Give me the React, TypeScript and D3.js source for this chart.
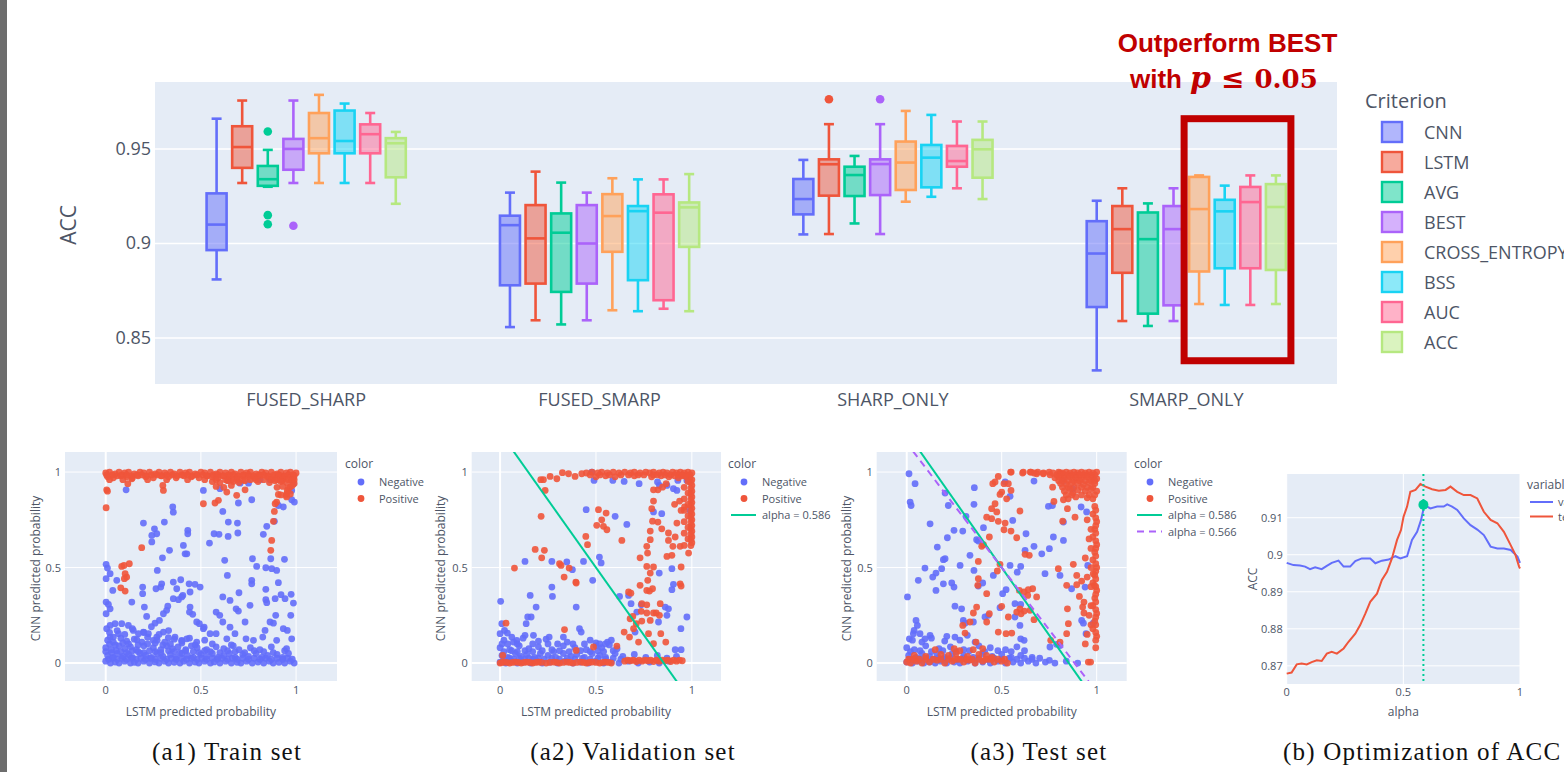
import React from "react";
import * as d3 from "d3";

// ---------- top box plot data ----------
const groups = ["FUSED_SHARP", "FUSED_SMARP", "SHARP_ONLY", "SMARP_ONLY"];
const criteria = ["CNN", "LSTM", "AVG", "BEST", "CROSS_ENTROPY", "BSS", "AUC", "ACC"];
const criterionColors = ["#636efa", "#EF553B", "#00cc96", "#ab63fa", "#FFA15A", "#19d3f3", "#FF6692", "#B6E880"];

// [lower whisker, q1, median, q3, upper whisker], one row per criterion
const fusedSharpStats = [
  [0.881, 0.8965, 0.91, 0.9265, 0.966],
  [0.932, 0.94, 0.951, 0.962, 0.9756],
  [0.93, 0.9305, 0.934, 0.941, 0.9495],
  [0.932, 0.939, 0.95, 0.9553, 0.9756],
  [0.932, 0.9477, 0.9557, 0.969, 0.9786],
  [0.932, 0.9477, 0.9542, 0.9703, 0.974],
  [0.932, 0.9477, 0.9578, 0.963, 0.969],
  [0.921, 0.935, 0.953, 0.9557, 0.959],
];
const fusedSmarpStats = [
  [0.8558, 0.8779, 0.9097, 0.9147, 0.9269],
  [0.8594, 0.8788, 0.9027, 0.9203, 0.938],
  [0.8572, 0.8744, 0.9057, 0.9159, 0.9322],
  [0.8594, 0.8788, 0.9, 0.9203, 0.9269],
  [0.8647, 0.8956, 0.9145, 0.9261, 0.9345],
  [0.8642, 0.8806, 0.9171, 0.9198, 0.9339],
  [0.8655, 0.87, 0.9163, 0.926, 0.9339],
  [0.8642, 0.8982, 0.9191, 0.9217, 0.9367],
];
const sharpOnlyStats = [
  [0.9048, 0.9154, 0.9235, 0.9341, 0.9442],
  [0.905, 0.9253, 0.9419, 0.9445, 0.9631],
  [0.9106, 0.9251, 0.9362, 0.9406, 0.9463],
  [0.905, 0.9256, 0.942, 0.9445, 0.9631],
  [0.9221, 0.9283, 0.9428, 0.9539, 0.9701],
  [0.9247, 0.9297, 0.9454, 0.9521, 0.968],
  [0.9292, 0.9406, 0.9436, 0.9516, 0.9645],
  [0.9235, 0.9348, 0.9498, 0.9548, 0.9645],
];
const smarpOnlyStats = [
  [0.8329, 0.8664, 0.8947, 0.9118, 0.9226],
  [0.859, 0.8845, 0.9076, 0.9198, 0.9292],
  [0.8564, 0.8629, 0.9023, 0.9164, 0.9212],
  [0.859, 0.8673, 0.9076, 0.9198, 0.9292],
  [0.868, 0.8852, 0.9182, 0.9352, 0.936],
  [0.8675, 0.8869, 0.917, 0.9231, 0.9306],
  [0.8675, 0.8869, 0.9219, 0.9299, 0.936],
  [0.868, 0.886, 0.9193, 0.9314, 0.936],
];
const groupStats = [fusedSharpStats, fusedSmarpStats, sharpOnlyStats, smarpOnlyStats];
// [group index, criterion index, value]
const boxOutliers = [
  [0, 2, 0.9592], [0, 2, 0.915], [0, 2, 0.9102], [0, 3, 0.9094],
  [2, 1, 0.9763], [2, 3, 0.9763],
];
const boxTicks = [0.85, 0.9, 0.95];
const boxYDomain = [0.8257, 0.9854];
const highlightRange = [0.838, 0.966];

// ---------- scatter data (LSTM prob, CNN prob) ----------
const a1Negative = [
  [0.107,0.907],[0.513,0.904],[0.6,0.913],[0.644,0.956],[0.706,0.942],[0.75,0.942],[0.811,0.96],[0.863,0.96],[0.986,0.939],[0.977,0.904],[0.991,0.843],[0.977,0.855],[0.933,0.817],[0.907,0.825],
  [0.352,0.817],[0.355,0.79],[0.198,0.733],[0.308,0.738],[0.256,0.703],[0.268,0.677],[0.242,0.668],[0.242,0.634],[0.431,0.695],[0.431,0.677],[0.408,0.616],[0.335,0.59],[0.298,0.551],[0.271,0.485],[0.417,0.572],[0.426,0.572],[0.615,0.794],[0.569,0.677],[0.595,0.674],[0.545,0.628],[0.644,0.738],[0.643,0.663],[0.692,0.733],[0.694,0.681],[0.697,0.838],[0.767,0.855],[0.828,0.674],[0.846,0.716],[0.886,0.742],[0.625,0.538],[0.639,0.459],[0.771,0.546],[0.793,0.506],[0.841,0.499],[0.867,0.546],[0.872,0.494],[0.898,0.485],[0.939,0.543],[0.907,0.421],
  [0.002,0.517],[0.009,0.497],[0.002,0.442],[0.023,0.468],[0.058,0.433],[0.037,0.38],[0.002,0.319],[0.014,0.307],[0.002,0.258],[0.023,0.284],[0.137,0.319],[0.194,0.398],[0.194,0.363],[0.264,0.389],[0.289,0.398],[0.294,0.415],[0.355,0.424],[0.394,0.436],[0.373,0.389],[0.405,0.354],[0.382,0.332],[0.355,0.337],[0.326,0.298],[0.32,0.276],[0.438,0.415],[0.469,0.412],[0.496,0.398],[0.443,0.372],[0.399,0.346],[0.203,0.293],[0.215,0.244],[0.259,0.209],[0.282,0.223],[0.303,0.258],[0.443,0.293],[0.44,0.267],[0.457,0.255],[0.478,0.215],[0.492,0.206],[0.513,0.18],[0.58,0.267],[0.599,0.25],[0.615,0.346],[0.653,0.328],[0.685,0.284],[0.697,0.272],[0.7,0.368],[0.758,0.302],[0.767,0.433],[0.767,0.415],[0.841,0.386],[0.841,0.332],[0.846,0.316],[0.89,0.337],[0.921,0.358],[0.942,0.337],[0.974,0.36],[0.986,0.314],[0.972,0.25],[0.977,0.127],[0.954,0.171],[0.893,0.25],[0.881,0.209],[0.863,0.215],[0.837,0.171],[0.825,0.136],[0.737,0.127],[0.732,0.215],[0.679,0.154],[0.653,0.188],[0.615,0.215],[0.58,0.154],[0.548,0.154],[0.517,0.188],[0.478,0.11],[0.399,0.119],[0.364,0.136],[0.303,0.162],[0.268,0.136],[0.224,0.154],[0.198,0.162],[0.172,0.154],[0.145,0.171],[0.119,0.197],[0.084,0.206],[0.049,0.206],[0.023,0.197],[0.005,0.18],[0.023,0.136],[0.04,0.136],[0.067,0.154],[0.163,0.122],[0.25,0.119],[0.329,0.133],[0.426,0.127],[0.636,0.127],[0.776,0.119],[0.898,0.119],[0.933,0.18],
  [0,0.01],[0.025,0],[0.05,0.005],[0.07,0],[0.1,0.01],[0.13,0],[0.15,0.004],[0.17,0],[0.2,0.01],[0.23,0],[0.26,0.006],[0.28,0],[0.31,0.01],[0.33,0],[0.36,0.004],[0.39,0],[0.41,0.01],[0.44,0],[0.47,0.005],[0.49,0],[0.52,0.01],[0.55,0],[0.57,0.006],[0.6,0],[0.63,0.01],[0.66,0],[0.69,0.004],[0.71,0],[0.74,0.01],[0.77,0],[0.8,0.005],[0.83,0],[0.86,0.01],[0.88,0],[0.91,0.004],[0.94,0],[0.97,0.01],[0.99,0],
  [0.015,0.02],[0.035,0.025],[0.06,0.02],[0.085,0.025],[0.11,0.02],[0.135,0.025],[0.16,0.02],[0.185,0.025],[0.21,0.02],[0.235,0.025],[0.26,0.02],[0.29,0.025],[0.32,0.02],[0.345,0.025],[0.37,0.02],[0.4,0.025],[0.425,0.02],[0.45,0.025],[0.48,0.02],[0.505,0.025],[0.53,0.02],[0.56,0.025],[0.585,0.02],[0.61,0.025],[0.64,0.02],[0.665,0.025],[0.69,0.02],[0.72,0.025],[0.75,0.02],[0.78,0.025],[0.81,0.02],[0.84,0.025],[0.87,0.02],[0.9,0.025],[0.93,0.02],[0.955,0.025],[0.98,0.02],
  [0.01,0.04],[0.04,0.03],[0.06,0.05],[0.09,0.035],[0.12,0.045],[0.14,0.03],[0.18,0.05],[0.21,0.04],[0.24,0.03],[0.27,0.05],[0.3,0.035],[0.34,0.045],[0.37,0.03],[0.4,0.05],[0.43,0.04],[0.46,0.03],[0.5,0.045],[0.53,0.035],[0.56,0.05],[0.59,0.03],[0.62,0.04],[0.65,0.05],[0.68,0.03],[0.72,0.045],[0.75,0.035],[0.79,0.05],[0.82,0.03],[0.85,0.04],[0.9,0.045],[0.93,0.03],[0.96,0.05],
  [0,0.06],[0.03,0.055],[0.055,0.065],[0.08,0.06],[0.11,0.055],[0.14,0.065],[0.17,0.06],[0.2,0.055],[0.23,0.065],[0.26,0.06],[0.29,0.055],[0.33,0.065],[0.36,0.06],[0.39,0.055],[0.42,0.065],[0.46,0.06],[0.49,0.055],[0.52,0.065],[0.55,0.06],[0.6,0.055],[0.64,0.065],[0.68,0.06],[0.73,0.055],[0.78,0.065],[0.83,0.06],[0.88,0.055],[0.94,0.065],
  [0,0.08],[0.03,0.07],[0.07,0.09],[0.1,0.075],[0.13,0.085],[0.16,0.07],[0.2,0.09],[0.25,0.08],[0.29,0.07],[0.32,0.09],[0.35,0.075],[0.38,0.085],[0.42,0.07],[0.45,0.09],[0.48,0.08],[0.53,0.07],[0.58,0.085],[0.62,0.075],[0.67,0.09],[0.7,0.07],[0.76,0.08],[0.81,0.07],[0.87,0.085],[0.95,0.075],
  [0.02,0.1],[0.05,0.095],[0.09,0.105],[0.12,0.1],[0.17,0.095],[0.22,0.1],[0.26,0.105],[0.3,0.095],[0.34,0.1],[0.4,0.105],[0.47,0.095],[0.56,0.1],[0.66,0.095],
  [0.01,0.12],[0.04,0.11],[0.08,0.13],[0.11,0.115],[0.15,0.125],[0.19,0.11],[0.22,0.135],[0.27,0.12],[0.31,0.11],[0.36,0.125],[0.4,0.115],[0.44,0.13],[0.52,0.12],
  [0.02,0.16],[0.06,0.17],[0.1,0.15],[0.14,0.18],[0.2,0.16],[0.24,0.19],[0.28,0.15],[0.33,0.17],
];
const a1Positive = [
  [0.002,0.813],[0.005,0.907],[0.009,0.9],[0.303,0.904],[0.3,0.93],[0.116,0.939],[0.137,0.965],[0.189,0.604],
  [0.084,0.506],[0.096,0.511],[0.124,0.52],[0.102,0.468],[0.11,0.45],[0.098,0.442],[0.079,0.394],[0.102,0.377],
  [0.513,0.834],[0.574,0.838],[0.592,0.852],[0.636,0.895],[0.688,0.878],[0.732,0.907],
  [0.867,0.59],[0.872,0.642],[0.881,0.742],[0.886,0.794],[0.89,0.834],[0.898,0.843],[0.907,0.883],[0.951,0.887],[0.954,0.904],[0.947,0.878],[0.925,0.956],[0.933,0.974],[0.968,0.921],[0.986,0.97],
  [0,0.995],[0.02,1],[0.05,0.99],[0.07,1],[0.1,0.995],[0.12,1],[0.15,0.99],[0.18,1],[0.2,0.995],[0.23,1],[0.26,0.99],[0.28,1],[0.31,0.995],[0.34,1],[0.36,0.99],[0.39,1],[0.42,0.995],[0.44,1],[0.47,0.99],[0.5,1],[0.52,0.995],[0.55,1],[0.58,0.99],[0.6,1],[0.63,0.995],[0.66,1],[0.68,0.99],[0.71,1],[0.74,0.995],[0.76,1],[0.79,0.99],[0.82,1],[0.84,0.995],[0.87,1],[0.9,0.99],[0.92,1],[0.95,0.995],[0.97,1],[1,0.995],
  [0.005,0.985],[0.035,0.985],[0.06,0.98],[0.085,0.985],[0.11,0.985],[0.135,0.98],[0.165,0.985],[0.19,0.985],[0.215,0.98],[0.24,0.985],[0.27,0.985],[0.295,0.98],[0.32,0.985],[0.35,0.985],[0.375,0.98],[0.4,0.985],[0.43,0.985],[0.455,0.98],[0.48,0.985],[0.51,0.985],[0.535,0.98],[0.565,0.985],[0.59,0.985],[0.615,0.98],[0.645,0.985],[0.67,0.985],[0.695,0.98],[0.725,0.985],[0.75,0.985],[0.775,0.98],[0.805,0.985],[0.83,0.985],[0.855,0.98],[0.885,0.985],[0.91,0.985],[0.935,0.98],[0.96,0.985],[0.985,0.985],
  [0.01,0.975],[0.04,0.97],[0.08,0.98],[0.11,0.975],[0.14,0.97],[0.17,0.98],[0.21,0.975],[0.25,0.97],[0.29,0.98],[0.33,0.975],[0.37,0.97],[0.41,0.98],[0.45,0.975],[0.49,0.97],[0.53,0.98],[0.56,0.975],[0.59,0.97],[0.62,0.98],[0.65,0.975],[0.69,0.97],[0.72,0.98],[0.75,0.975],[0.78,0.97],[0.81,0.98],[0.85,0.975],[0.88,0.97],[0.91,0.98],[0.94,0.975],[0.97,0.97],[0.99,0.98],
  [0.02,0.96],[0.09,0.96],[0.22,0.96],[0.32,0.96],[0.43,0.96],[0.52,0.96],[0.58,0.96],[0.63,0.96],[0.66,0.96],[0.69,0.96],[0.72,0.96],[0.76,0.96],[0.79,0.96],[0.83,0.96],[0.87,0.96],[0.9,0.96],[0.93,0.96],[0.96,0.96],[0.99,0.96],
  [0.56,0.95],[0.6,0.945],[0.64,0.955],[0.67,0.95],[0.7,0.945],[0.73,0.955],[0.8,0.95],[0.86,0.945],[0.89,0.955],[0.92,0.95],[0.95,0.945],[0.98,0.955],[0.99,0.94],
  [0.58,0.925],[0.62,0.92],[0.66,0.93],[0.9,0.92],[0.93,0.925],[0.96,0.915],[0.98,0.93],[0.92,0.88],[0.95,0.87],[0.97,0.885],
];

const a2Negative = [
  [0.478,1],[0.49,0.956],[0.588,0.956],[0.647,0.951],[0.725,0.939],[0.821,0.948],[0.831,0.93],[0.87,0.93],[0.904,0.913],[0.922,0.904],[0.927,0.956],[0.974,0.956],[0.991,0.799],[0.449,0.803],[0.6,0.768],[0.661,0.726],[0.8,0.791],[0.843,0.782],
  [0.13,0.532],[0.27,0.532],[0.348,0.529],[0.377,0.489],[0.435,0.532],[0.518,0.555],[0.527,0.524],[0.483,0.433],[0.27,0.398],[0.157,0.354],[0.273,0.349],[0.188,0.293],[0.397,0.293],[0.144,0.241],[0.162,0.241],[0.136,0.206],[0.174,0.145],[0.13,0.145],[0.087,0.119],[0.003,0.323],[0.009,0.206],[0.023,0.171],[0,0.154],[0.038,0.157],[0.061,0.136],[0.256,0.136],[0.33,0.136],[0.414,0.18],[0.423,0.162],[0.623,0.349],[0.67,0.354],[0.683,0.311],[0.736,0.305],[0.83,0.471],[0.896,0.494],[0.896,0.384],[0.904,0.412],[0.861,0.293],[0.878,0.284],[0.87,0.25],[0.826,0.215],[0.974,0.241],[0.943,0.18],[0.944,0.07],[0.913,0.07],[0.713,0.267],[0.704,0.162],
  [0,0.005],[0.03,0],[0.06,0.01],[0.09,0],[0.12,0.005],[0.16,0],[0.19,0.01],[0.22,0],[0.26,0.005],[0.3,0],[0.34,0.01],[0.38,0],[0.42,0.005],[0.46,0],[0.5,0.01],[0.54,0],[0.58,0.005],[0.62,0],[0.67,0.01],[0.72,0],[0.78,0.005],[0.83,0],[0.88,0.01],
  [0.02,0.02],[0.05,0.025],[0.07,0.02],[0.1,0.025],[0.13,0.02],[0.15,0.025],[0.17,0.02],[0.2,0.025],[0.23,0.02],[0.27,0.025],[0.31,0.02],[0.35,0.025],[0.39,0.02],[0.43,0.025],[0.47,0.02],[0.51,0.025],[0.55,0.02],[0.59,0.025],[0.63,0.02],
  [0.01,0.04],[0.04,0.03],[0.08,0.05],[0.11,0.035],[0.14,0.045],[0.18,0.03],[0.21,0.05],[0.25,0.04],[0.29,0.03],[0.33,0.05],[0.37,0.035],[0.4,0.045],[0.44,0.03],[0.48,0.05],[0.52,0.04],[0.55,0.03],[0.6,0.05],[0.64,0.035],[0.7,0.045],[0.76,0.03],[0.82,0.04],[0.87,0.025],[0.92,0.035],
  [0.02,0.06],[0.06,0.065],[0.09,0.06],[0.13,0.065],[0.17,0.06],[0.22,0.065],[0.28,0.06],[0.31,0.065],[0.36,0.06],[0.42,0.065],[0.47,0.06],[0.51,0.065],[0.54,0.06],[0.59,0.065],
  [0,0.08],[0.05,0.07],[0.1,0.09],[0.15,0.075],[0.2,0.085],[0.27,0.07],[0.33,0.09],[0.39,0.08],[0.45,0.07],[0.5,0.09],[0.53,0.08],[0.57,0.095],[0.61,0.075],
  [0.01,0.1],[0.04,0.1],[0.09,0.1],[0.17,0.1],[0.25,0.1],[0.3,0.1],[0.38,0.1],[0.44,0.1],[0.52,0.1],[0.55,0.1],
  [0.02,0.12],[0.07,0.11],[0.12,0.13],[0.2,0.115],[0.24,0.125],[0.35,0.11],[0.47,0.12],[0.5,0.105],[0.56,0.11],[0.58,0.12],
];
const a2Positive = [
  [0.212,0.96],[0.226,0.96],[0.261,0.977],[0.296,0.965],[0.325,0.997],[0.357,0.991],[0.391,0.977],[0.426,0.991],[0.235,0.904],
  [0.214,0.768],[0.075,0.497],[0.183,0.595],[0.231,0.59],[0.217,0.551],[0.31,0.52],[0.318,0.511],[0.36,0.497],[0.334,0.45],[0.395,0.424],[0.397,0.419],[0.447,0.663],[0.456,0.62],[0.513,0.803],[0.553,0.785],[0.53,0.75],[0.504,0.721],[0.539,0.716],[0.557,0.698],[0.635,0.642],[0.73,0.551],[0.769,0.576],[0.765,0.611],[0.783,0.646],[0.783,0.691],[0.795,0.743],[0.791,0.808],[0.8,0.848],[0.823,0.738],[0.843,0.703],[0.878,0.681],[0.878,0.642],[0.901,0.611],[0.913,0.66],[0.939,0.611],[0.96,0.616],[0.922,0.733],[0.91,0.831],[0.936,0.848],[0.944,0.799],[0.962,0.817],[0.823,0.907],[0.847,0.921],[0.866,0.939],[0.8,0.907],
  [0.765,0.506],[0.783,0.471],[0.8,0.503],[0.77,0.433],[0.795,0.389],[0.765,0.38],[0.835,0.311],[0.87,0.558],[0.896,0.564],[0.944,0.503],[0.939,0.415],[0.944,0.403],[0.983,0.576],[0.73,0.407],[0.779,0.377],[0.682,0.366],[0.67,0.372],[0.739,0.311],[0.765,0.305],[0.736,0.271],[0.765,0.262],[0.8,0.262],[0.814,0.262],[0.783,0.223],[0.831,0.25],[0.739,0.22],[0.692,0.244],[0.678,0.232],[0.71,0.206],[0.696,0.18],[0.838,0.154],[0.864,0.11],[0.8,0.101],[0.774,0.154],[0.647,0.162],[0.675,0.136],[0.722,0.11],[0.336,0.175],[0.031,0.209],[0.014,0.04],[0.397,0.066],[0.487,0.084],[0.609,0.089],
  [0,0],[0.02,0.005],[0.05,0],[0.08,0.005],[0.11,0],[0.14,0.005],[0.17,0],[0.2,0.005],[0.24,0],[0.28,0.005],[0.31,0],[0.35,0.005],[0.38,0],[0.42,0.005],[0.45,0],[0.48,0.005],[0.52,0],[0.55,0.005],[0.58,0],
  [0.01,0.003],[0.035,0.003],[0.065,0.003],[0.095,0.003],[0.125,0.003],[0.155,0.003],[0.185,0.003],[0.215,0.003],[0.26,0.003],[0.295,0.003],[0.33,0.003],[0.365,0.003],[0.4,0.003],[0.435,0.003],[0.465,0.003],[0.5,0.003],[0.535,0.003],[0.565,0.003],
  [0.65,0.01],[0.68,0.012],[0.71,0.008],[0.74,0.01],[0.77,0.012],[0.8,0.008],[0.83,0.01],[0.86,0.012],[0.89,0.008],[0.92,0.01],[0.95,0.012],
  [0.665,0.015],[0.695,0.015],[0.725,0.015],[0.755,0.015],[0.785,0.015],[0.815,0.015],[0.845,0.015],[0.875,0.015],[0.905,0.015],[0.935,0.015],
  [0.45,0.995],[0.48,1],[0.51,0.995],[0.53,1],[0.56,0.995],[0.59,1],[0.62,0.995],[0.65,1],[0.68,0.995],[0.7,1],[0.73,0.995],[0.76,1],[0.78,0.995],[0.8,1],[0.83,0.995],[0.85,1],[0.87,0.995],[0.9,1],[0.92,0.995],[0.94,1],[0.96,0.995],[0.98,1],[1,0.995],
  [0.47,0.985],[0.52,0.985],[0.57,0.985],[0.63,0.985],[0.67,0.985],[0.72,0.985],[0.75,0.985],[0.8,0.985],[0.82,0.985],[0.86,0.985],[0.89,0.985],[0.93,0.985],[0.95,0.985],[0.97,0.985],[0.99,0.985],
  [0.5,0.975],[0.55,0.98],[0.6,0.975],[0.7,0.98],[0.79,0.975],[0.84,0.98],[0.88,0.975],[0.91,0.98],[0.93,0.97],[0.95,0.98],[0.97,0.975],[0.99,0.97],
  [1,0.96],[1,0.93],[1,0.9],[1,0.87],[1,0.84],[1,0.81],[1,0.78],[1,0.75],[1,0.72],[1,0.69],[1,0.66],[1,0.63],
  [0.995,0.945],[0.995,0.915],[0.995,0.885],[0.995,0.855],[0.995,0.825],[0.995,0.795],[0.995,0.765],[0.995,0.735],[0.995,0.705],[0.995,0.675],[0.995,0.645],[0.995,0.615],
  [0.98,0.95],[0.98,0.89],[0.98,0.83],[0.98,0.77],[0.98,0.71],[0.98,0.65],[0.96,0.92],[0.96,0.86],[0.96,0.8],[0.96,0.74],[0.96,0.68],
];

const a3Negative = [
  [0.012,0.991],[0.018,0.843],[0.023,0.825],[0.044,0.939],[0.004,0.346],[0.123,0.729],[0.161,0.607],[0.096,0.497],[0.061,0.433],[0.137,0.45],[0.154,0.471],[0.184,0.494],[0.193,0.541],[0.202,0.546],[0.214,0.656],[0.202,0.89],[0.219,0.825],[0.249,0.695],[0.295,0.691],[0.281,0.511],[0.237,0.419],[0.249,0.398],[0.193,0.415],[0.154,0.38],[0.254,0.298],[0.289,0.284],[0.298,0.223],[0.307,0.209],[0.351,0.215],[0.319,0.145],[0.254,0.136],[0.211,0.14],[0.123,0.145],[0.096,0.127],[0.049,0.223],[0.056,0.197],[0.039,0.171],[0.035,0.154],[0.07,0.154],[0.014,0.127],
  [0.356,0.918],[0.354,0.831],[0.312,0.768],[0.333,0.564],[0.354,0.485],[0.368,0.646],[0.377,0.639],[0.404,0.709],[0.4,0.419],[0.377,0.403],[0.456,0.459],[0.505,0.363],[0.491,0.29],[0.43,0.25],[0.412,0.241],[0.518,0.948],[0.544,0.873],[0.558,0.747],[0.582,0.476],[0.6,0.506],[0.544,0.511],[0.523,0.384],[0.57,0.311],[0.6,0.307],[0.57,0.241],[0.596,0.197],[0.6,0.127],[0.618,0.119],[0.628,0.677],[0.623,0.59],[0.67,0.953],[0.67,0.611],[0.711,0.572],[0.751,0.599],[0.728,0.468],[0.772,0.66],[0.767,0.825],[0.825,0.738],[0.825,0.642],[0.746,0.82],[0.807,0.459],[0.868,0.389],[0.939,0.398],[0.953,0.511],[0.921,0.223],[0.93,0.209],[0.944,0.154],[0.982,0.209],[0.918,0.817],[0.947,0.791],[0.825,0.953],[0.874,0.913],[0.754,0.084],[0.789,0.098],[0.807,0.092],[0.751,0.014],
  [0,0.005],[0.03,0],[0.06,0.01],[0.09,0],[0.12,0.005],[0.15,0],[0.18,0.01],[0.21,0],[0.25,0.005],[0.28,0],[0.32,0.01],[0.36,0],[0.4,0.005],[0.44,0],[0.48,0.01],[0.52,0],[0.56,0.005],[0.6,0],[0.64,0.01],[0.68,0],[0.73,0.005],[0.78,0],[0.84,0.01],[0.9,0],
  [0.02,0.02],[0.045,0.025],[0.07,0.02],[0.1,0.025],[0.135,0.02],[0.165,0.025],[0.195,0.02],[0.23,0.025],[0.265,0.02],[0.3,0.025],[0.34,0.02],[0.38,0.025],[0.42,0.02],[0.46,0.025],[0.5,0.02],[0.54,0.025],[0.58,0.02],[0.62,0.025],[0.66,0.02],[0.7,0.025],
  [0.01,0.04],[0.05,0.03],[0.08,0.05],[0.12,0.035],[0.16,0.045],[0.2,0.03],[0.24,0.05],[0.3,0.04],[0.35,0.03],[0.4,0.05],[0.45,0.035],[0.5,0.045],[0.55,0.03],[0.6,0.04],[0.66,0.03],
  [0.02,0.06],[0.07,0.065],[0.13,0.06],[0.19,0.065],[0.26,0.06],[0.33,0.065],[0.41,0.06],[0.48,0.065],[0.55,0.06],[0.62,0.065],
  [0,0.08],[0.04,0.07],[0.1,0.09],[0.17,0.075],[0.23,0.085],[0.3,0.07],[0.38,0.09],[0.44,0.08],[0.52,0.07],[0.58,0.085],
  [0.03,0.12],[0.08,0.11],[0.13,0.13],[0.2,0.115],[0.28,0.12],[0.36,0.11],
];
const a3Positive = [
  [0.453,0.939],[0.465,0.948],[0.482,0.977],[0.512,0.939],[0.547,1],[0.614,1],[0.654,1],[0.684,0.991],[0.719,0.991],[0.754,0.986],[0.807,0.995],[0.5,0.895],[0.491,0.883],[0.526,0.86],[0.549,0.904],[0.535,0.939],[0.465,0.834],[0.447,0.808],[0.474,0.791],[0.421,0.764],[0.447,0.756],[0.482,0.742],[0.512,0.698],[0.518,0.733],[0.549,0.691],[0.579,0.656],[0.596,0.796],[0.435,0.66],[0.395,0.611],[0.404,0.62],[0.377,0.532],[0.377,0.442],[0.374,0.407],[0.477,0.482],[0.491,0.517],[0.623,0.569],[0.645,0.564],[0.593,0.38],[0.618,0.372],[0.637,0.354],[0.663,0.389],[0.684,0.346],[0.64,0.384],[0.579,0.267],[0.602,0.258],[0.619,0.272],[0.596,0.284],[0.67,0.227],[0.649,0.276],[0.5,0.297],[0.535,0.241],[0.553,0.157],[0.523,0.154],[0.482,0.162],[0.333,0.215],[0.351,0.262],[0.368,0.293],[0.421,0.363],[0.435,0.258],[0.421,0.215],[0.307,0.157],[0.295,0.197],[0.365,0.11],
  [0.798,0.494],[0.842,0.407],[0.895,0.41],[0.921,0.429],[0.846,0.284],[0.851,0.206],[0.842,0.154],[0.909,0.349],[0.933,0.319],[0.926,0.293],[0.933,0.262],[0.982,0.468],[0.988,0.407],[0.895,0.459],[0.877,0.517],[0.821,0.743],[0.846,0.808],[0.886,0.764],[0.825,0.855],[0.775,0.846],[0.768,0.921],[0.874,0.89],[0.758,0.119],[0.807,0.11],[0.956,0.005],[0.968,0.005],
  [0,0.005],[0.02,0],[0.05,0.01],[0.08,0],[0.12,0.005],[0.16,0.015],[0.2,0],[0.24,0.01],[0.27,0.02],[0.3,0.005],[0.33,0.015],[0.36,0],[0.4,0.01],[0.43,0.02],[0.46,0.005],[0.5,0.01],[0.53,0],
  [0.01,0.02],[0.035,0.02],[0.065,0.02],[0.1,0.02],[0.14,0.02],[0.18,0.02],[0.22,0.02],[0.255,0.02],[0.285,0.02],[0.315,0.02],[0.345,0.02],[0.38,0.02],[0.415,0.02],[0.445,0.02],[0.48,0.02],[0.515,0.02],
  [0.04,0.04],[0.1,0.035],[0.18,0.045],[0.22,0.04],[0.26,0.05],[0.32,0.035],[0.38,0.045],[0.42,0.04],[0.45,0.03],[0.15,0.07],[0.25,0.075],[0.28,0.065],[0.35,0.07],[0.4,0.075],
  [0.8,1],[0.82,0.995],[0.84,1],[0.86,0.995],[0.88,1],[0.9,0.995],[0.92,1],[0.94,0.995],[0.96,1],[0.98,0.995],[1,1],
  [0.79,0.985],[0.81,0.985],[0.83,0.985],[0.85,0.985],[0.87,0.985],[0.89,0.985],[0.91,0.985],[0.93,0.985],[0.95,0.985],[0.97,0.985],[0.99,0.985],
  [0.78,0.97],[0.8,0.975],[0.83,0.965],[0.86,0.975],[0.89,0.97],[0.92,0.965],[0.95,0.975],[0.98,0.97],[1,0.965],
  [0.8,0.955],[0.82,0.955],[0.85,0.955],[0.88,0.955],[0.91,0.955],[0.94,0.955],[0.97,0.955],[0.99,0.955],
  [0.81,0.94],[0.84,0.935],[0.87,0.945],[0.9,0.94],[0.93,0.935],[0.96,0.945],[0.99,0.94],
  [0.82,0.92],[0.85,0.92],[0.88,0.92],[0.92,0.92],[0.95,0.92],[0.98,0.92],
  [0.83,0.9],[0.86,0.91],[0.9,0.905],[0.94,0.9],[0.97,0.91],[1,0.9],
  [0.84,0.88],[0.87,0.88],[0.92,0.88],[0.96,0.88],[0.99,0.88],
  [0.85,0.86],[0.89,0.87],[0.95,0.865],[0.98,0.86],
  [0.99,0.82],[0.98,0.78],[1,0.74],[0.99,0.7],[0.98,0.66],[1,0.62],[0.99,0.58],[0.98,0.54],[1,0.5],[0.99,0.46],[0.98,0.42],[1,0.38],[0.99,0.34],[0.98,0.3],[1,0.26],[0.99,0.22],[0.98,0.18],[1,0.14],
  [0.995,0.8],[0.995,0.76],[0.995,0.72],[0.995,0.68],[0.995,0.64],[0.995,0.6],[0.995,0.56],[0.995,0.52],[0.995,0.48],[0.995,0.44],[0.995,0.4],[0.995,0.36],[0.995,0.32],[0.995,0.28],[0.995,0.24],[0.995,0.2],[0.995,0.16],[0.995,0.12],[0.995,0.08],
  [0.97,0.7],[0.97,0.6],[0.97,0.5],[0.97,0.4],[0.97,0.3],[0.97,0.2],
  [0.95,0.75],[0.96,0.65],[0.94,0.55],[0.95,0.45],[0.96,0.25],[0.95,0.15],[0.94,0.1],
  [0.55,1],[0.61,0.995],[0.65,1],[0.67,0.995],[0.69,1],[0.72,0.995],[0.75,1],[0.77,0.995],
];

// decision boundaries: alpha * LSTM + (1 - alpha) * CNN = 0.5
const a2Boundaries = [{ alpha: 0.586, label: "alpha = 0.586", color: "#00cc96", dash: "" }];
const a3Boundaries = [
  { alpha: 0.586, label: "alpha = 0.586", color: "#00cc96", dash: "" },
  { alpha: 0.566, label: "alpha = 0.566", color: "#ab63fa", dash: "7,5" },
];
const boundaryThreshold = 0.5;

// ---------- ACC vs alpha ----------
const validationCurve = [
  [0,0.8978],[0.029,0.8972],[0.057,0.8971],[0.079,0.8968],[0.1,0.8961],[0.122,0.8966],[0.15,0.8961],[0.172,0.897],[0.193,0.8978],[0.222,0.8984],[0.244,0.8968],[0.272,0.8968],[0.294,0.8983],[0.322,0.899],[0.358,0.899],[0.38,0.8977],[0.408,0.8984],[0.437,0.8987],[0.466,0.8996],[0.487,0.899],[0.516,0.8996],[0.537,0.904],[0.559,0.9062],[0.576,0.9094],[0.587,0.9125],[0.602,0.913],[0.616,0.9125],[0.645,0.913],[0.673,0.913],[0.688,0.9136],[0.709,0.913],[0.731,0.9121],[0.759,0.9098],[0.788,0.908],[0.817,0.9068],[0.845,0.9053],[0.874,0.9022],[0.903,0.9017],[0.931,0.9017],[0.96,0.9013],[0.989,0.8995],[1,0.8978],
];
const testCurve = [
  [0,0.8679],[0.021,0.8682],[0.043,0.8704],[0.064,0.8706],[0.086,0.8704],[0.107,0.871],[0.129,0.8715],[0.15,0.8713],[0.172,0.8733],[0.193,0.8738],[0.215,0.8733],[0.244,0.8747],[0.265,0.8765],[0.294,0.8787],[0.315,0.881],[0.337,0.8841],[0.358,0.8873],[0.387,0.8895],[0.408,0.8932],[0.43,0.8954],[0.451,0.899],[0.473,0.904],[0.49,0.9067],[0.501,0.9103],[0.516,0.913],[0.53,0.917],[0.552,0.9175],[0.573,0.9191],[0.595,0.9184],[0.623,0.9177],[0.652,0.9173],[0.681,0.9175],[0.702,0.9184],[0.731,0.917],[0.759,0.9161],[0.788,0.9161],[0.817,0.9152],[0.845,0.9116],[0.874,0.9094],[0.903,0.9085],[0.931,0.9062],[0.96,0.9026],[0.981,0.8999],[0.996,0.8968],[1,0.8963],
];
const bestAlpha = 0.586;
const bestValidationAcc = 0.9135;
const accTicks = [0.87, 0.88, 0.89, 0.9, 0.91];
const probTicks = [0, 0.5, 1];

const PLOT_BG = "#E5ECF6";
const TEXT = "#4d5566";
const FONT = "'Open Sans', 'Noto Sans', sans-serif";
const BLUE = "#636efa";
const RED = "#EF553B";
const DOT_R = 3.4;

const BoxChart = () => {
  const left = 155, right = 1337, top = 82, bottom = 384;
  const y = d3.scaleLinear().domain(boxYDomain).range([bottom, top]);
  const x = d3.scaleBand().domain(groups).range([159.5, 1333]);
  const inner = d3.scaleBand().domain(criteria).range([-102.4, 102.4]);
  const boxW = 20;
  const cap = 10;

  const cx = (g: number, c: number) =>
    x(groups[g])! + x.bandwidth() / 2 + inner(criteria[c])! + inner.bandwidth() / 2;

  const hlGroup = 3;
  const hlLeft = cx(hlGroup, 4) - boxW / 2 - 5;
  const hlRight = cx(hlGroup, 7) + boxW / 2 + 5;

  return (
    <g>
      <rect x={left} y={top} width={right - left} height={bottom - top} fill={PLOT_BG} />
      {boxTicks.map(t => (
        <g key={t}>
          <line x1={left} x2={right} y1={y(t)} y2={y(t)} stroke="#fff" strokeWidth={1.6} />
          <text x={left - 4} y={y(t) + 6} textAnchor="end" fontSize={18} fill={TEXT} fontFamily={FONT}>{t}</text>
        </g>
      ))}
      <text transform={`translate(76,${(top + bottom) / 2 - 8}) rotate(-90)`} textAnchor="middle" fontSize={21} fill={TEXT} fontFamily={FONT}>ACC</text>
      {groups.map(g => (
        <text key={g} x={x(g)! + x.bandwidth() / 2} y={406} textAnchor="middle" fontSize={18} fill={TEXT} fontFamily={FONT}>{g}</text>
      ))}
      {groupStats.map((stats, gi) =>
        stats.map((s, ci) => {
          const c = cx(gi, ci);
          const col = criterionColors[ci];
          const [lo, q1, med, q3, hi] = s;
          return (
            <g key={`${gi}-${ci}`} stroke={col} strokeWidth={2.6}>
              <line x1={c} x2={c} y1={y(hi)} y2={y(q3)} />
              <line x1={c} x2={c} y1={y(q1)} y2={y(lo)} />
              <line x1={c - cap / 2} x2={c + cap / 2} y1={y(hi)} y2={y(hi)} />
              <line x1={c - cap / 2} x2={c + cap / 2} y1={y(lo)} y2={y(lo)} />
              <rect x={c - boxW / 2} width={boxW} y={y(q3)} height={Math.max(0.5, y(q1) - y(q3))} fill={col} fillOpacity={0.5} />
              <line x1={c - boxW / 2} x2={c + boxW / 2} y1={y(med)} y2={y(med)} />
            </g>
          );
        })
      )}
      {boxOutliers.map(([g, c, v], i) => (
        <circle key={i} cx={cx(g, c)} cy={y(v)} r={4.3} fill={criterionColors[c]} />
      ))}
      {/* highlight */}
      <rect x={hlLeft} y={y(highlightRange[1])} width={hlRight - hlLeft} height={y(highlightRange[0]) - y(highlightRange[1])} fill="none" stroke="#C00000" strokeWidth={7} />
      <text x={(hlLeft + hlRight) / 2 - 10} y={52} textAnchor="middle" fontSize={26} fontWeight="bold" fill="#C00000" fontFamily="'Liberation Sans', Arial, sans-serif">Outperform BEST</text>
      <text x={1130} y={88} fontSize={26} fontWeight="bold" fill="#C00000" fontFamily="'Liberation Sans', Arial, sans-serif">
        with
        <tspan dx={8} fontSize={30} fontFamily="'DejaVu Serif', serif" fontStyle="italic">p</tspan>
        <tspan dx={10} fontSize={28} fontFamily="'DejaVu Serif', serif">≤</tspan>
        <tspan dx={10} fontFamily="'DejaVu Serif', serif">0.05</tspan>
      </text>
      {/* legend */}
      <text x={1365} y={108} fontSize={20} fill={TEXT} fontFamily={FONT}>Criterion</text>
      {criteria.map((c, i) => (
        <g key={c} transform={`translate(0,${132 + i * 30})`}>
          <rect x={1382} y={-10} width={20} height={20} fill={criterionColors[i]} fillOpacity={0.5} stroke={criterionColors[i]} strokeWidth={2.4} />
          <text x={1424} y={7} fontSize={18} fill={TEXT} fontFamily={FONT}>{c}</text>
        </g>
      ))}
    </g>
  );
};

type Boundary = { alpha: number; label: string; color: string; dash: string };

const ScatterPanel = ({ id, x0, x1, xDomain, neg, pos, boundaries, yTitleX, legendX, caption, captionX }: {
  id: string; x0: number; x1: number; xDomain: number[]; neg: number[][]; pos: number[][];
  boundaries: Boundary[]; yTitleX: number; legendX: number; caption: string; captionX: number;
}) => {
  const top = 452, bottom = 681;
  const x = d3.scaleLinear().domain(xDomain).range([x0, x1]);
  const y = d3.scaleLinear().domain([-0.094, 1.105]).range([bottom, top]);
  const items = [
    { label: "Negative", color: BLUE, kind: "dot", dash: "" },
    { label: "Positive", color: RED, kind: "dot", dash: "" },
    ...boundaries.map(b => ({ label: b.label, color: b.color, kind: "line", dash: b.dash })),
  ];
  return (
    <g>
      <defs>
        <clipPath id={id}><rect x={x0} y={top} width={x1 - x0} height={bottom - top} /></clipPath>
      </defs>
      <rect x={x0} y={top} width={x1 - x0} height={bottom - top} fill={PLOT_BG} />
      {probTicks.map(t => (
        <g key={t}>
          <line x1={x(t)} x2={x(t)} y1={top} y2={bottom} stroke="#fff" strokeWidth={t === 0 ? 2 : 1} />
          <line x1={x0} x2={x1} y1={y(t)} y2={y(t)} stroke="#fff" strokeWidth={t === 0 ? 2 : 1} />
          <text x={x(t)} y={694} textAnchor="middle" fontSize={11} fill={TEXT} fontFamily={FONT}>{t}</text>
          <text x={x0 - 4} y={y(t) + 4} textAnchor="end" fontSize={11} fill={TEXT} fontFamily={FONT}>{t}</text>
        </g>
      ))}
      <g clipPath={`url(#${id})`}>
        {neg.map((d, i) => <circle key={`n${i}`} cx={x(d[0])} cy={y(d[1])} r={DOT_R} fill={BLUE} fillOpacity={0.9} />)}
        {pos.map((d, i) => <circle key={`p${i}`} cx={x(d[0])} cy={y(d[1])} r={DOT_R} fill={RED} fillOpacity={0.9} />)}
        {boundaries.map(b => {
          const lineY = (v: number) => (boundaryThreshold - b.alpha * v) / (1 - b.alpha);
          const [xa, xb] = xDomain;
          return (
            <line key={b.label} x1={x(xa)} y1={y(lineY(xa))} x2={x(xb)} y2={y(lineY(xb))}
              stroke={b.color} strokeWidth={2} strokeDasharray={b.dash || undefined} />
          );
        })}
      </g>
      <text transform={`translate(${yTitleX},${(top + bottom) / 2 + 2}) rotate(-90)`} textAnchor="middle" fontSize={12} fill={TEXT} fontFamily={FONT}>CNN predicted probability</text>
      <text x={x(0.5)} y={716} textAnchor="middle" fontSize={12} fill={TEXT} fontFamily={FONT}>LSTM predicted probability</text>
      <text x={legendX} y={468} fontSize={12} fill={TEXT} fontFamily={FONT}>color</text>
      {items.map((it, i) => (
        <g key={it.label} transform={`translate(${legendX},${482 + i * 16.5})`}>
          {it.kind === "dot"
            ? <circle cx={16} cy={0} r={DOT_R} fill={it.color} />
            : <line x1={3} x2={28} y1={0} y2={0} stroke={it.color} strokeWidth={2} strokeDasharray={it.dash || undefined} />}
          <text x={34} y={4} fontSize={11} fill={TEXT} fontFamily={FONT}>{it.label}</text>
        </g>
      ))}
      <text x={captionX} y={760} textAnchor="middle" fontSize={25} letterSpacing={1.2} fill="#111" fontFamily="'Liberation Serif', 'DejaVu Serif', serif">{caption}</text>
    </g>
  );
};

const AlphaChart = () => {
  const left = 1286.7, right = 1520, top = 474, bottom = 684;
  const x = d3.scaleLinear().domain([0, 1]).range([left, right]);
  const y = d3.scaleLinear().domain([0.8651, 0.9218]).range([bottom, top]);
  const line = d3.line<number[]>().x(d => x(d[0])).y(d => y(d[1]));
  return (
    <g>
      <rect x={left} y={top} width={right - left} height={bottom - top} fill={PLOT_BG} />
      {accTicks.map(t => (
        <g key={t}>
          <line x1={left} x2={right} y1={y(t)} y2={y(t)} stroke="#fff" strokeWidth={1} />
          <text x={left - 4} y={y(t) + 4} textAnchor="end" fontSize={11} fill={TEXT} fontFamily={FONT}>{t}</text>
        </g>
      ))}
      {probTicks.map(t => (
        <g key={t}>
          <line x1={x(t)} x2={x(t)} y1={top} y2={bottom} stroke="#fff" strokeWidth={1} />
          <text x={x(t)} y={696} textAnchor="middle" fontSize={11} fill={TEXT} fontFamily={FONT}>{t}</text>
        </g>
      ))}
      <path d={line(validationCurve)!} fill="none" stroke={BLUE} strokeWidth={2} />
      <path d={line(testCurve)!} fill="none" stroke={RED} strokeWidth={2} />
      <line x1={x(bestAlpha)} x2={x(bestAlpha)} y1={top} y2={bottom} stroke="#00cc96" strokeWidth={2} strokeDasharray="2,3" />
      <circle cx={x(bestAlpha)} cy={y(bestValidationAcc)} r={5} fill="#00cc96" />
      <text transform={`translate(1257,${(top + bottom) / 2}) rotate(-90)`} textAnchor="middle" fontSize={12} fill={TEXT} fontFamily={FONT}>ACC</text>
      <text x={x(0.5)} y={716} textAnchor="middle" fontSize={12} fill={TEXT} fontFamily={FONT}>alpha</text>
      <text x={1527} y={489} fontSize={12} fill={TEXT} fontFamily={FONT}>variable</text>
      {[{ label: "validation", color: BLUE }, { label: "test", color: RED }].map((it, i) => (
        <g key={it.label} transform={`translate(1530,${502 + i * 14.5})`}>
          <line x1={0} x2={23} y1={0} y2={0} stroke={it.color} strokeWidth={2} />
          <text x={28} y={4} fontSize={11} fill={TEXT} fontFamily={FONT}>{it.label}</text>
        </g>
      ))}
      <text x={1283} y={760} fontSize={25} letterSpacing={1.2} fill="#111" fontFamily="'Liberation Serif', 'DejaVu Serif', serif">(b) Optimization of ACC</text>
    </g>
  );
};

export default function App() {
  return (
    <>
      <style>{"body{margin:0}"}</style>
      <svg width={1564} height={772} style={{ display: "block", background: "#fff" }}>
        <rect x={0} y={0} width={7} height={772} fill="#6d6d6d" />
        <BoxChart />
        <ScatterPanel id="a1" x0={65} x1={337} xDomain={[-0.214, 1.215]} neg={a1Negative} pos={a1Positive}
          boundaries={[]} yTitleX={40} legendX={345} caption="(a1) Train set" captionX={227} />
        <ScatterPanel id="a2" x0={471.7} x1={721} xDomain={[-0.148, 1.152]} neg={a2Negative} pos={a2Positive}
          boundaries={a2Boundaries} yTitleX={445} legendX={728} caption="(a2) Validation set" captionX={633} />
        <ScatterPanel id="a3" x0={876.7} x1={1126.7} xDomain={[-0.158, 1.158]} neg={a3Negative} pos={a3Positive}
          boundaries={a3Boundaries} yTitleX={851} legendX={1134} caption="(a3) Test set" captionX={1039} />
        <AlphaChart />
      </svg>
    </>
  );
}
